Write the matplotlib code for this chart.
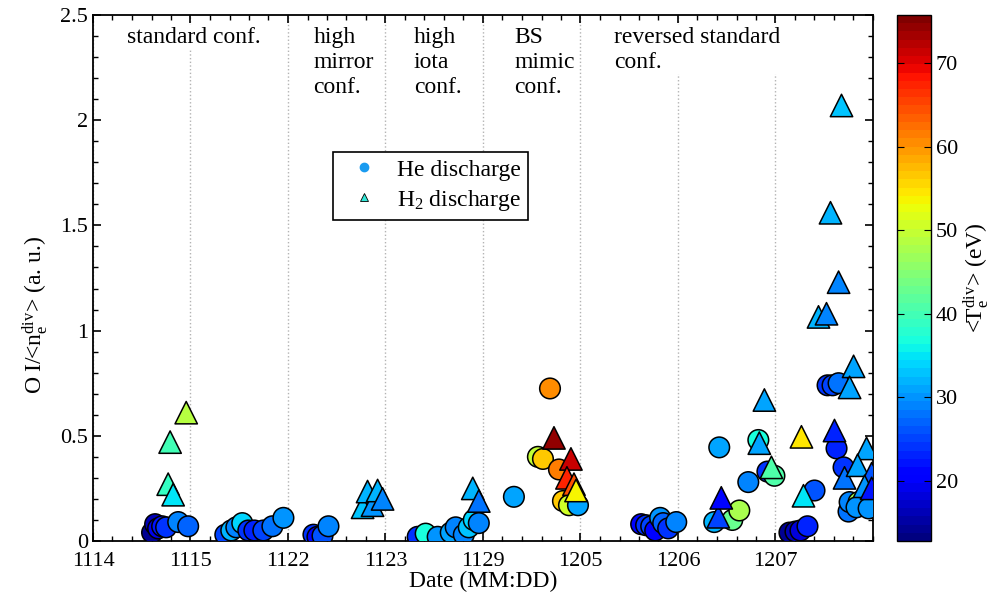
import matplotlib
matplotlib.use("Agg")
import matplotlib.pyplot as plt
from matplotlib.lines import Line2D
from matplotlib.ticker import MultipleLocator

plt.rcParams['font.family'] = ['Liberation Serif', 'DejaVu Serif']
plt.rcParams['mathtext.fontset'] = 'custom'
plt.rcParams['mathtext.rm'] = 'Liberation Serif'
plt.rcParams['mathtext.default'] = 'regular'

# --- data ---------------------------------------------------------------
dates = ['1114', '1115', '1122', '1123', '1129', '1205', '1206', '1207']

# He discharges: position (date index + fraction), O I / <n_e>, <T_e> (eV)
he_x = [0.606, 0.637, 0.668, 0.709, 0.750, 0.874, 0.976,
        1.357, 1.418, 1.470, 1.531, 1.593, 1.655, 1.747, 1.840, 1.953,
        2.261, 2.302, 2.354, 2.415,
        3.330, 3.412, 3.535, 3.669, 3.720, 3.803, 3.854, 3.905, 3.957,
        4.317, 4.563, 4.615, 4.687, 4.779, 4.820, 4.882, 4.974,
        5.622, 5.673, 5.725, 5.766, 5.817, 5.848, 5.899, 5.982,
        6.372, 6.423, 6.557, 6.629, 6.721, 6.824, 6.917, 6.989,
        7.143, 7.205, 7.256, 7.328, 7.400, 7.534, 7.585, 7.647, 7.626,
        7.698, 7.749, 7.760, 7.852, 7.831, 7.955]
he_y = [0.04, 0.08, 0.06, 0.07, 0.065, 0.09, 0.07,
        0.03, 0.05, 0.065, 0.085, 0.05, 0.05, 0.05, 0.07, 0.11,
        0.03, 0.02, 0.025, 0.07,
        0.02, 0.035, 0.02, 0.04, 0.065, 0.03, 0.065, 0.10, 0.085,
        0.21, 0.40, 0.39, 0.725, 0.34, 0.19, 0.17, 0.17,
        0.08, 0.075, 0.07, 0.05, 0.11, 0.085, 0.06, 0.09,
        0.09, 0.445, 0.10, 0.145, 0.28, 0.48, 0.33, 0.31,
        0.04, 0.045, 0.05, 0.07, 0.24, 0.74, 0.74, 0.75, 0.44,
        0.35, 0.14, 0.185, 0.185, 0.16, 0.155]
he_te = [14, 16, 19, 22, 24, 29, 27,
         25, 32, 29, 34, 24, 23, 25, 28, 30,
         24, 20, 26, 29,
         24, 37, 30, 31, 29, 29, 33, 34, 29,
         31, 50, 57, 61, 62, 57, 51, 31,
         21, 24, 25, 20, 30, 27, 24, 29,
         32, 31, 43, 48, 29, 37, 24, 41,
         14, 16, 18, 23, 26, 24, 25, 28, 23,
         24, 28, 29, 48, 30, 30]

# H2 discharges
h2_x = [0.771, 0.822, 0.791, 0.956,
        2.765, 2.816, 2.867, 2.919, 2.970,
        3.895, 3.957,
        4.728, 4.902, 4.861, 4.933, 4.954,
        6.413, 6.444, 6.834, 6.886, 6.958,
        7.266, 7.287, 7.441, 7.523, 7.564, 7.647, 7.677, 7.801, 7.760,
        7.605, 7.934, 7.708, 7.842, 7.986, 7.914, 7.986]
h2_y = [0.27, 0.22, 0.47, 0.61,
        0.16, 0.235, 0.17, 0.24, 0.20,
        0.25, 0.19,
        0.49, 0.39, 0.30, 0.27, 0.24,
        0.115, 0.205, 0.465, 0.67, 0.35,
        0.495, 0.215, 1.065, 1.08, 1.56, 1.23, 2.07, 0.83, 0.73,
        0.525, 0.44, 0.30, 0.36, 0.32, 0.26, 0.25]
h2_te = [39, 35, 40, 49,
         33, 32, 30, 32, 29,
         32, 28,
         74, 71, 67, 64, 54,
         25, 21, 31, 31, 41,
         55, 35, 32, 29, 32, 29, 33, 31, 31,
         23, 31, 28, 31, 26, 30, 22]

configs = ['standard conf.', 'high\nmirror\nconf.', 'high\niota\nconf.',
           'BS\nmimic\nconf.', 'reversed standard\nconf.']
config_x = [0.35, 2.26, 3.29, 4.32, 5.34]

te_min, te_max = 12.8, 75.8

# --- plot ---------------------------------------------------------------
fig = plt.figure(figsize=(9.95, 6), dpi=100)
ax = fig.add_axes([93/995, 59/600, 780/995, 526/600])
cmap = plt.get_cmap('jet', 64)

ax.scatter(he_x, he_y, c=he_te, cmap=cmap, vmin=te_min, vmax=te_max,
           marker='o', s=220, edgecolors='black', linewidths=1.1, zorder=3)
sc = ax.scatter(h2_x, h2_y, c=h2_te, cmap=cmap, vmin=te_min, vmax=te_max,
                marker='^', s=260, edgecolors='black', linewidths=1.1, zorder=4)

ax.set_xlim(0, 8)
ax.set_ylim(0, 2.5)
ax.set_xticks(range(len(dates)))
ax.set_xticklabels(dates)
ax.xaxis.set_minor_locator(MultipleLocator(0.2))
ax.yaxis.set_minor_locator(MultipleLocator(0.1))
ax.set_yticks([0, 0.5, 1, 1.5, 2, 2.5])
ax.set_yticklabels(['0', '0.5', '1', '1.5', '2', '2.5'])
ax.tick_params(which='both', direction='in', top=True, right=True, labelsize=16)
ax.tick_params(which='major', length=6, width=1.2)
ax.tick_params(which='minor', length=3.5, width=1)
ax.tick_params(axis='x', pad=8)
for sp in ax.spines.values():
    sp.set_linewidth(1.3)

ax.grid(axis='x', which='major', color='0.7', linestyle=':', linewidth=1, zorder=0)

for lbl, xc in zip(configs, config_x):
    ax.text(xc, 2.445, lbl, fontsize=17, va='top', ha='left', linespacing=1.26,
            bbox=dict(facecolor='white', edgecolor='none', pad=1), zorder=2)

ax.set_xlabel('Date (MM:DD)', fontsize=17, labelpad=0)
ax.set_ylabel(r'O I/<n$_{e}^{div}$> (a. u.)', fontsize=17)
ax.yaxis.set_label_coords(-0.055, 0.43)

handles = [Line2D([], [], marker='o', linestyle='none', markersize=6,
                  markerfacecolor='#1a9bf0', markeredgecolor='#1a9bf0'),
           Line2D([], [], marker='^', linestyle='none', markersize=6,
                  markerfacecolor='#30e8d8', markeredgecolor='black', markeredgewidth=0.6)]
leg = ax.legend(handles, ['He discharge', r'H$_2$ discharge'], fontsize=17,
                loc='upper left', bbox_to_anchor=(333/995, 1 - 152/600),
                bbox_transform=fig.transFigure, borderaxespad=0, frameon=True,
                fancybox=False, framealpha=1, edgecolor='black', handletextpad=0.4,
                borderpad=0.3, labelspacing=0.3, handlelength=2.0)
leg.get_frame().set_linewidth(1.2)

cax = fig.add_axes([897/995, 59/600, 34/995, 526/600])
cb = fig.colorbar(sc, cax=cax)
cb.set_ticks([20, 30, 40, 50, 60, 70])
cb.ax.tick_params(direction='in', left=True, right=True, length=5, labelsize=16)
cb.outline.set_linewidth(1)
cb.set_label(r'<T$_{e}^{div}$> (eV)', fontsize=17, labelpad=2)

fig.savefig('out.png', dpi=100)
